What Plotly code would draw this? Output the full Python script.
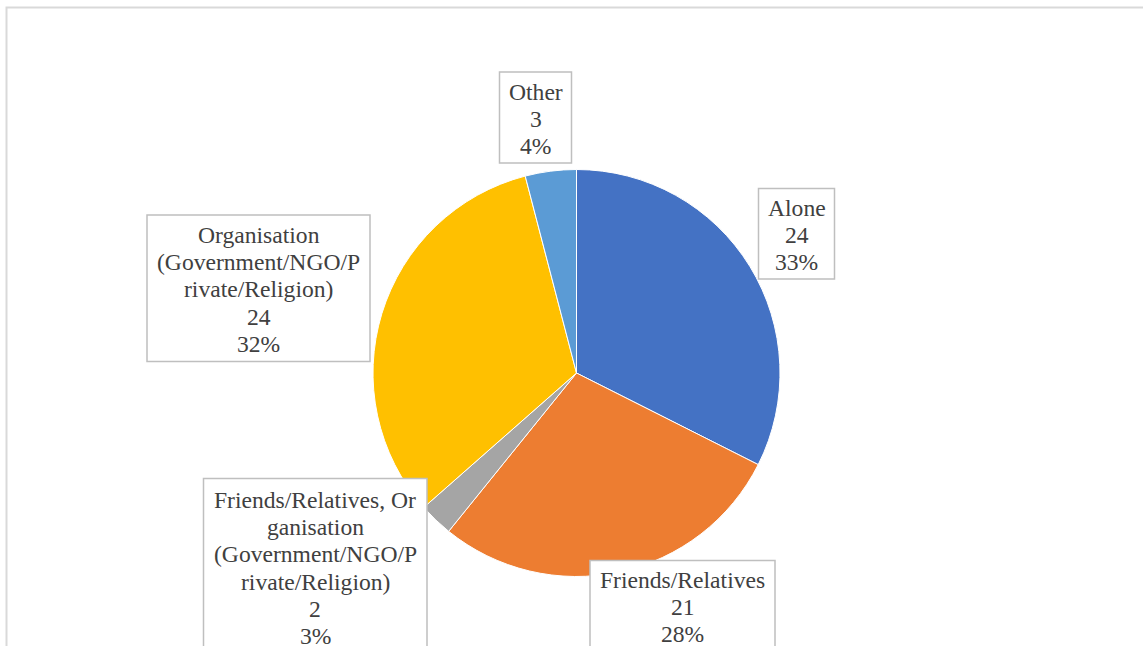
import plotly.graph_objects as go

# ---- data ----
categories = [
    "Alone",
    "Friends/Relatives",
    "Friends/Relatives, Organisation (Government/NGO/Private/Religion)",
    "Organisation (Government/NGO/Private/Religion)",
    "Other",
]
values = [24, 21, 2, 24, 3]
pct_labels = ["33%", "28%", "3%", "32%", "4%"]
label_lines = [
    ["Alone"],
    ["Friends/Relatives"],
    ["Friends/Relatives, Or", "ganisation", "(Government/NGO/P", "rivate/Religion)"],
    ["Organisation", "(Government/NGO/P", "rivate/Religion)"],
    ["Other"],
]
colors = ["#4472C4", "#ED7D31", "#A5A5A5", "#FFC000", "#5B9BD5"]

W, H = 1143, 646

# label box geometry in pixels: (left, top, right, bottom, first line center y)
boxes = [
    (758.5, 188.5, 834.5, 279.0, 208.0),
    (590.0, 560.5, 775.0, 700.0, 579.5),
    (203.5, 478.5, 427.0, 700.0, 500.0),
    (147.0, 215.0, 370.0, 361.5, 235.0),
    (499.5, 72.0, 571.5, 163.0, 92.0),
]
line_gap = 27.2
font_size = 23.6
font_family = "Times New Roman, Liberation Serif, DejaVu Serif, serif"

def px(x):
    return x / W

def py(y):
    return 1 - y / H

cx, cy, r = 576.5, 373.0, 203.5

fig = go.Figure(
    go.Pie(
        labels=categories,
        values=values,
        sort=False,
        direction="clockwise",
        rotation=0,
        marker=dict(colors=colors, line=dict(color="white", width=1)),
        textinfo="none",
        hoverinfo="label+value+percent",
        domain=dict(x=[px(cx - r), px(cx + r)], y=[py(cy + r), py(cy - r)]),
    )
)

shapes = [
    dict(
        type="rect", xref="paper", yref="paper",
        x0=px(6.5), x1=px(1300), y0=py(7.5), y1=py(800),
        line=dict(color="#D9D9D9", width=2), fillcolor="rgba(0,0,0,0)",
        layer="below",
    )
]
annotations = []
for i, (l, t, rr, b, y0) in enumerate(boxes):
    shapes.append(dict(
        type="rect", xref="paper", yref="paper",
        x0=px(l), x1=px(rr), y0=py(t), y1=py(b),
        line=dict(color="#BFBFBF", width=1.5), fillcolor="white", layer="above",
    ))
    lines = label_lines[i] + [str(values[i]), pct_labels[i]]
    xc = (l + rr) / 2
    for k, txt in enumerate(lines):
        annotations.append(dict(
            xref="paper", yref="paper", x=px(xc), y=py(y0 + k * line_gap),
            xanchor="center", yanchor="middle", showarrow=False, text=txt,
            font=dict(family=font_family, size=font_size, color="#404040"),
        ))

fig.update_layout(
    width=W, height=H,
    margin=dict(l=0, r=0, t=0, b=0),
    paper_bgcolor="white", plot_bgcolor="white",
    showlegend=False,
    shapes=shapes,
    annotations=annotations,
)

fig.write_html("out.html")
